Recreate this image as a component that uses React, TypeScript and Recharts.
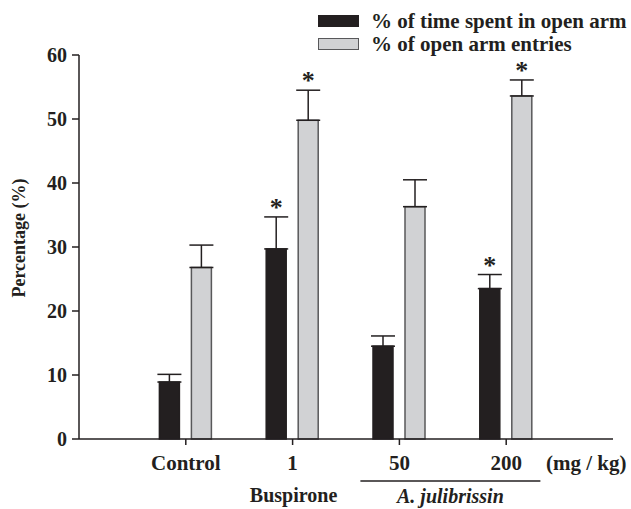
import React from "react";
import { Bar, BarChart, ErrorBar, Legend, XAxis, YAxis } from "recharts";

const categories = ["Control", "1", "50", "200"];
const timeInOpenArm = [8.9, 29.7, 14.5, 23.5];
const timeInOpenArmSem = [1.2, 5.0, 1.6, 2.2];
const timeInOpenArmSig = [false, true, false, true];
const openArmEntries = [26.8, 49.8, 36.3, 53.6];
const openArmEntriesSem = [3.5, 4.7, 4.2, 2.5];
const openArmEntriesSig = [false, true, false, true];
const yTicks = [0, 10, 20, 30, 40, 50, 60];
const seriesNames = ["% of time spent in open arm", "% of open arm entries"];

const FONT = '"Liberation Serif", "Times New Roman", serif';
const INK = "#231f20";
const fills = [INK, "#d1d2d4"];
const strokes = [INK, "#58585a"];

const data = categories.map((name, i) => ({
  name,
  time: timeInOpenArm[i],
  timeSem: timeInOpenArmSem[i],
  timeErr: [0, timeInOpenArmSem[i]],
  timeSig: timeInOpenArmSig[i],
  entries: openArmEntries[i],
  entriesSem: openArmEntriesSem[i],
  entriesErr: [0, openArmEntriesSem[i]],
  entriesSig: openArmEntriesSig[i],
}));

// bar rectangle plus the significance star above its error bar
const makeShape = (valKey: string, semKey: string, sigKey: string) => (props: any) => {
  const { x, y, width, height, payload, fill, stroke, strokeWidth } = props;
  const value = payload[valKey];
  const ppu = value ? height / value : 0;
  const errTop = y - payload[semKey] * ppu;
  return (
    <g>
      <rect x={x} y={y} width={width} height={height} fill={fill} stroke={stroke} strokeWidth={strokeWidth} />
      {payload[sigKey] && (
        <text
          x={x + width / 2}
          y={errTop - 1}
          textAnchor="middle"
          fontSize={26}
          fontWeight="bold"
          fontFamily={FONT}
          fill={INK}
        >
          *
        </text>
      )}
    </g>
  );
};

const XTick = (props: any) => {
  const { x, y, payload, index } = props;
  const txt = { fontFamily: FONT, fontWeight: "bold" as const, fill: INK };
  return (
    <g>
      <text x={x} y={y + 15} textAnchor="middle" fontSize={21} {...txt}>
        {payload.value}
      </text>
      {index === 1 && (
        <text x={x + 1} y={y + 47} textAnchor="middle" fontSize={20} {...txt}>
          Buspirone
        </text>
      )}
      {index === 2 && (
        <g>
          <line x1={x - 39} x2={x + 141} y1={y + 26} y2={y + 26} stroke={INK} strokeWidth={1.5} />
          <text x={x + 51} y={y + 48} textAnchor="middle" fontSize={20} fontStyle="italic" {...txt}>
            A. julibrissin
          </text>
        </g>
      )}
      {index === 3 && (
        <text x={x + 80} y={y + 15} textAnchor="middle" fontSize={21} {...txt}>
          (mg / kg)
        </text>
      )}
    </g>
  );
};

const YLabel = (props: any) => {
  const { viewBox } = props;
  const cx = viewBox.x + 24.5;
  const cy = viewBox.y + viewBox.height / 2 - 9;
  return (
    <text
      x={cx}
      y={cy}
      transform={`rotate(-90 ${cx} ${cy})`}
      textAnchor="middle"
      fontSize={18}
      fontWeight="bold"
      fontFamily={FONT}
      fill={INK}
    >
      Percentage (%)
    </text>
  );
};

const LegendContent = () => (
  <div style={{ fontFamily: FONT, fontWeight: "bold", fontSize: 21, color: INK }}>
    {seriesNames.map((label, i) => (
      <div key={label} style={{ display: "flex", alignItems: "center", height: 23 }}>
        <span
          style={{
            display: "inline-block",
            width: 41,
            height: 12,
            boxSizing: "border-box",
            background: fills[i],
            border: `1.5px solid ${strokes[i]}`,
            marginRight: 12,
          }}
        />
        <span style={{ lineHeight: "23px", whiteSpace: "nowrap" }}>{label}</span>
      </div>
    ))}
  </div>
);

export default function App() {
  return (
    <div style={{ width: 631, height: 509, background: "#fff" }}>
      <style>{`body{margin:0}`}</style>
      <BarChart
        width={631}
        height={509}
        data={data}
        margin={{ top: 55, right: 18, bottom: 10, left: 0 }}
        barSize={20}
        barGap={12}
      >
        <XAxis
          dataKey="name"
          height={60}
          padding={{ left: 53.4, right: 53.4 }}
          axisLine={{ stroke: INK, strokeWidth: 1.5 }}
          tickLine={{ stroke: INK, strokeWidth: 1.5 }}
          tickSize={6}
          tickMargin={10}
          tick={<XTick />}
          interval={0}
        />
        <YAxis
          width={79}
          domain={[0, 60]}
          ticks={yTicks}
          interval={0}
          axisLine={{ stroke: INK, strokeWidth: 1.5 }}
          tickLine={{ stroke: INK, strokeWidth: 1.5 }}
          tickSize={7}
          tickMargin={5}
          tick={{ fontSize: 20, fontWeight: "bold", fontFamily: FONT, fill: INK }}
          label={<YLabel />}
        />
        <Legend
          layout="vertical"
          align="center"
          verticalAlign="middle"
          content={<LegendContent />}
          wrapperStyle={{ left: 318, top: 9.5, width: "auto" }}
        />
        <Bar
          dataKey="time"
          name={seriesNames[0]}
          fill={fills[0]}
          stroke={strokes[0]}
          strokeWidth={1.5}
          shape={makeShape("time", "timeSem", "timeSig")}
          isAnimationActive={false}
        >
          <ErrorBar dataKey="timeErr" direction="y" width={12} stroke={INK} strokeWidth={1.5} />
        </Bar>
        <Bar
          dataKey="entries"
          name={seriesNames[1]}
          fill={fills[1]}
          stroke={strokes[1]}
          strokeWidth={1.5}
          shape={makeShape("entries", "entriesSem", "entriesSig")}
          isAnimationActive={false}
        >
          <ErrorBar dataKey="entriesErr" direction="y" width={12} stroke={INK} strokeWidth={1.5} />
        </Bar>
      </BarChart>
    </div>
  );
}
